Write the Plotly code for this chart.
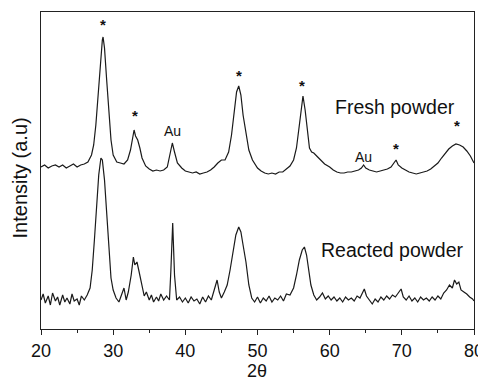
import plotly.graph_objects as go

# Fresh powder pattern (2theta in degrees, intensity in arbitrary units)
fresh_x = [20.0, 20.5, 21.0, 21.5, 22.0, 22.5, 23.0, 23.5, 24.0, 24.5, 25.0, 25.5, 26.0, 26.5,
           27.0, 27.3, 27.6, 27.9, 28.2, 28.5, 28.6, 28.8, 29.1, 29.4, 29.7, 30.0, 30.5, 31.0, 31.5,
           32.0, 32.4, 32.7, 32.9, 33.1, 33.4, 33.7, 34.0, 34.5, 35.0, 35.5, 36.0, 36.5, 37.0, 37.5,
           37.9, 38.2, 38.5, 38.9, 39.5, 40.0, 40.5, 41.0, 41.5, 42.0, 42.5, 43.0, 43.5, 44.0, 44.5,
           45.0, 45.5, 46.0, 46.4, 46.8, 47.1, 47.4, 47.7, 48.0, 48.4, 48.8, 49.3, 50.0, 50.5, 51.0,
           51.5, 52.0, 52.5, 53.0, 53.5, 54.0, 54.5, 55.0, 55.4, 55.8, 56.1, 56.3, 56.6, 56.9, 57.2,
           57.5, 57.8, 58.2, 58.7, 59.3, 60.0, 60.5, 61.0, 61.5, 62.0, 62.5, 63.0, 63.5, 64.0, 64.4,
           64.7, 65.0, 65.5, 66.0, 66.5, 67.0, 67.5, 68.0, 68.5, 68.9, 69.2, 69.5, 70.0, 70.5, 71.0,
           71.5, 72.0, 72.5, 73.0, 73.5, 74.0, 74.5, 75.0, 75.5, 76.0, 76.5, 77.0, 77.5, 78.0, 78.5,
           79.0, 79.5, 80.0]
fresh_y = [162, 164, 161, 163, 164, 162, 164, 161, 163, 165, 162, 164, 165, 167,
           174, 184, 204, 234, 269, 289, 292, 281, 249, 214, 189, 174, 167, 166, 165,
           169, 179, 191, 199, 193, 189, 181, 171, 163, 160, 158, 159, 158, 159, 162,
           174, 186, 177, 166, 161, 158, 157, 156, 157, 155, 156, 157, 159, 162, 166,
           169, 169, 177, 194, 219, 237, 243, 234, 214, 194, 179, 169, 161, 158, 156,
           155, 156, 155, 157, 157, 160, 163, 169, 181, 204, 225, 233, 219, 199, 181,
           177, 176, 173, 169, 165, 162, 159, 157, 156, 156, 157, 157, 158, 159, 161,
           164, 161, 159, 158, 157, 158, 159, 160, 162, 166, 169, 164, 161, 159, 157,
           156, 155, 156, 157, 158, 160, 163, 166, 171, 176, 180, 183, 185, 184, 182,
           178, 173, 166]

# Reacted powder pattern
reacted_x = [20.0, 20.3, 20.6, 21.0, 21.3, 21.6, 22.0, 22.3, 22.6, 23.0, 23.3, 23.6, 24.0, 24.3,
             24.6, 25.0, 25.3, 25.6, 26.0, 26.4, 26.8, 27.1, 27.4, 27.7, 28.0, 28.3, 28.5, 28.8,
             29.1, 29.4, 29.7, 30.0, 30.4, 30.8, 31.2, 31.5, 31.8, 32.1, 32.5, 32.8, 33.0, 33.3,
             33.6, 34.0, 34.3, 34.6, 35.0, 35.3, 35.6, 36.0, 36.3, 36.6, 37.0, 37.4, 37.8, 38.0,
             38.25, 38.5, 38.8, 39.2, 39.6, 40.0, 40.4, 40.8, 41.2, 41.6, 42.0, 42.4, 42.8, 43.2,
             43.6, 44.0, 44.4, 44.7, 45.0, 45.4, 45.8, 46.2, 46.6, 47.0, 47.4, 47.7, 48.0, 48.4,
             48.8, 49.2, 49.6, 50.0, 50.4, 50.8, 51.2, 51.6, 52.0, 52.4, 52.8, 53.2, 53.6, 54.0,
             54.5, 55.0, 55.4, 55.8, 56.2, 56.5, 56.8, 57.1, 57.4, 57.8, 58.2, 58.6, 59.0, 59.4,
             59.8, 60.2, 60.6, 61.0, 61.4, 61.8, 62.2, 62.6, 63.0, 63.4, 63.8, 64.2, 64.6, 64.8,
             65.1, 65.5, 65.9, 66.3, 66.7, 67.1, 67.5, 67.9, 68.3, 68.7, 69.1, 69.5, 69.9, 70.2,
             70.6, 71.0, 71.4, 71.8, 72.2, 72.6, 73.0, 73.4, 73.8, 74.2, 74.6, 75.0, 75.4, 75.8,
             76.2, 76.6, 77.0, 77.3, 77.6, 77.9, 78.2, 78.6, 79.0, 79.4, 79.8, 80.0]
reacted_y = [29, 35, 26, 33, 24, 36, 28, 32, 24, 34, 27, 31, 25, 35,
             28, 30, 24, 33, 29, 34, 41, 59, 89, 124, 154, 171, 169, 149,
             114, 79, 51, 39, 31, 27, 34, 41, 29, 37, 54, 72, 64, 67,
             57, 44, 33, 37, 29, 34, 27, 32, 28, 35, 29, 33, 29, 59,
             106, 54, 29, 32, 27, 31, 26, 32, 28, 30, 25, 32, 27, 33,
             29, 39, 49, 37, 31, 37, 44, 59, 79, 94, 102, 97, 84, 67,
             44, 31, 27, 32, 26, 31, 28, 33, 27, 31, 29, 33, 28, 35,
             34, 41, 54, 69, 79, 82, 74, 59, 44, 34, 29, 32, 36, 30,
             33, 29, 32, 28, 31, 27, 32, 29, 31, 28, 33, 31, 37, 40,
             33, 29, 25, 30, 27, 32, 29, 33, 30, 34, 32, 36, 40, 32,
             29, 33, 28, 31, 27, 32, 29, 31, 28, 32, 29, 33, 30, 36,
             39, 44, 41, 49, 45, 47, 39, 37, 35, 32, 30, 28]

# Peak labels
star_x = [28.6, 33.0, 47.4, 56.2, 69.2, 77.6]
star_y = [305, 214, 254, 244, 181, 204]
au_x = [38.2, 64.7]
au_y = [198, 172]
sample_labels = ["Fresh powder", "Reacted powder"]
sample_x = [69.05, 68.7]
sample_y = [222, 79]

x_ticks = [20, 30, 40, 50, 60, 70, 80]

FONT = "Liberation Sans, Arial, sans-serif"
LINE = "#1a1a1a"

fig = go.Figure()
fig.add_trace(go.Scatter(x=fresh_x, y=fresh_y, mode="lines",
                         line=dict(color=LINE, width=1.2), showlegend=False))
fig.add_trace(go.Scatter(x=reacted_x, y=reacted_y, mode="lines",
                         line=dict(color=LINE, width=1.2), showlegend=False))

for xv, yv in zip(star_x, star_y):
    fig.add_annotation(x=xv, y=yv, text="<b>*</b>", showarrow=False,
                       font=dict(family=FONT, size=15, color="#111"))
for xv, yv in zip(au_x, au_y):
    fig.add_annotation(x=xv, y=yv, text="Au", showarrow=False,
                       font=dict(family=FONT, size=14, color="#111"))
for t, xv, yv in zip(sample_labels, sample_x, sample_y):
    fig.add_annotation(x=xv, y=yv, text=t, showarrow=False,
                       font=dict(family=FONT, size=19.5, color="#111"))

# Axis titles placed in paper coordinates
fig.add_annotation(xref="paper", yref="paper", x=-0.0485, y=0.478, text="Intensity (a.u)",
                   textangle=-90, showarrow=False, xanchor="center", yanchor="middle",
                   font=dict(family=FONT, size=20, color="#111"))
fig.add_annotation(xref="paper", yref="paper", x=0.4988, y=-0.1315, text="2θ",
                   showarrow=False, xanchor="center", yanchor="middle",
                   font=dict(family=FONT, size=18, color="#111"))

# The page body adds an 8 px offset, so the figure is 8 px smaller than the window
fig.update_layout(
    width=478, height=374,
    margin=dict(l=33, r=12, t=4, b=53, autoexpand=False),
    paper_bgcolor="white", plot_bgcolor="white",
    font=dict(family=FONT, color="#111"),
)
fig.update_xaxes(
    range=[20, 80], tickvals=x_ticks, ticktext=[str(v) for v in x_ticks],
    ticks="outside", ticklen=5, tickwidth=1, tickcolor="#222",
    minor=dict(dtick=5, ticks="outside", ticklen=3, tickcolor="#222"),
    showline=True, linecolor="#222", linewidth=1.2, mirror=True,
    showgrid=False, zeroline=False, automargin=False,
    tickfont=dict(size=18, family=FONT, color="#111"),
)
fig.update_yaxes(
    range=[0, 317], showticklabels=False, ticks="",
    showline=True, linecolor="#222", linewidth=1.2, mirror=True,
    showgrid=False, zeroline=False, automargin=False,
)

fig.write_html("out.html")
